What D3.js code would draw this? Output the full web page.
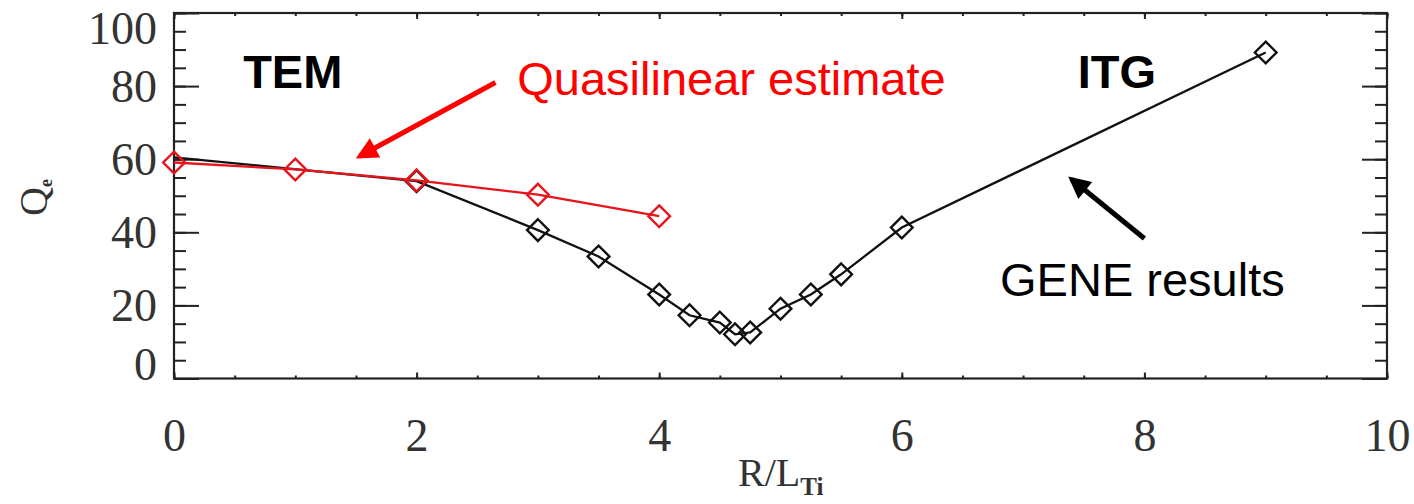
<!DOCTYPE html>
<html>
<head>
<meta charset="utf-8">
<script src="https://cdn.jsdelivr.net/npm/d3@7"></script>
<style>
  body { margin: 0; background: #fff; }
  svg { display: block; }
  .tick-label { font-family: "Liberation Serif", serif; font-size: 46px; fill: #333; }
  .note { font-family: "Liberation Sans", Arial, sans-serif; font-size: 47px; }
</style>
</head>
<body>
<svg width="1414" height="504"></svg>
<script>
// GENE results (black)
const geneX = [0, 2, 3, 3.5, 4, 4.25, 4.5, 4.625, 4.75, 5, 5.25, 5.5, 6, 9];
const geneQ = [60.5, 54, 40.6, 33.4, 23, 17.3, 15.3, 12.1, 12.6, 19.1, 23, 28.5, 41.3, 89.2];
const geneMarked = [false, true, true, true, true, true, true, true, true, true, true, true, true, true];

// Quasilinear estimate (red)
const qlX = [0, 1, 2, 3, 4];
const qlQ = [59.1, 57.2, 54.2, 50.3, 44.4];

const xTicks = [0, 2, 4, 6, 8, 10];
const yTicks = [0, 20, 40, 60, 80, 100];

(function () {
  "use strict";
  const svg = d3.select("svg");
  const margin = { top: 13, left: 174, right: 27, bottom: 125.5 };
  const width = 1414 - margin.left - margin.right;
  const height = 504 - margin.top - margin.bottom;

  const x = d3.scaleLinear().domain([0, 10]).range([0, width]);
  const y = d3.scaleLinear().domain([0, 100]).range([height, 0]);

  const g = svg.append("g").attr("transform", `translate(${margin.left},${margin.top})`);

  const styleAxis = (sel) => {
    sel.select(".domain").remove();
    sel.selectAll(".tick line").attr("stroke", "#222").attr("stroke-width", 2);
  };

  // minor ticks
  g.append("g").attr("transform", `translate(0,${height})`)
    .call(d3.axisBottom(x).tickValues(d3.range(0, 10.01, 0.5)).tickSize(-3).tickFormat(""))
    .call(styleAxis);
  g.append("g")
    .call(d3.axisTop(x).tickValues(d3.range(0, 10.01, 0.5)).tickSize(-3).tickFormat(""))
    .call(styleAxis);
  g.append("g")
    .call(d3.axisLeft(y).tickValues(d3.range(0, 101, 5)).tickSize(-12).tickFormat(""))
    .call(styleAxis);
  g.append("g").attr("transform", `translate(${width},0)`)
    .call(d3.axisRight(y).tickValues(d3.range(0, 101, 5)).tickSize(-12).tickFormat(""))
    .call(styleAxis);

  // major ticks
  const xAxis = g.append("g").attr("transform", `translate(0,${height})`)
    .call(d3.axisBottom(x).tickValues(xTicks).tickSize(-6).tickPadding(40))
    .call(styleAxis);
  xAxis.selectAll("text").attr("class", "tick-label").attr("fill", null);
  g.append("g")
    .call(d3.axisTop(x).tickValues(xTicks).tickSize(-6).tickFormat(""))
    .call(styleAxis);

  const yAxis = g.append("g")
    .call(d3.axisLeft(y).tickValues(yTicks).tickSize(-25).tickPadding(17))
    .call(styleAxis);
  const yNudge = { 0: -14, 100: 15 };
  yAxis.selectAll("text").attr("class", "tick-label").attr("fill", null)
    .attr("dy", (d) => (yNudge[d] || 0) + 15);
  g.append("g").attr("transform", `translate(${width},0)`)
    .call(d3.axisRight(y).tickValues(yTicks).tickSize(-25).tickFormat(""))
    .call(styleAxis);

  // frame
  g.append("rect").attr("width", width).attr("height", height)
    .attr("fill", "none").attr("stroke", "#222").attr("stroke-width", 2.2);

  // axis titles
  const xt = svg.append("text")
    .attr("x", margin.left + x(4.65)).attr("y", 486)
    .attr("font-family", "Liberation Serif, serif").attr("font-size", 40).attr("fill", "#333");
  xt.append("tspan").text("R/L");
  xt.append("tspan").attr("font-size", 25).attr("font-weight", "bold").attr("dy", 9).text("Ti");

  const yt = svg.append("text")
    .attr("transform", "translate(47,216) rotate(-90)")
    .attr("font-family", "Liberation Serif, serif").attr("font-size", 40).attr("fill", "#333");
  yt.append("tspan").text("Q");
  yt.append("tspan").attr("font-size", 18).attr("font-weight", "bold").attr("dy", 5).text("e");

  // series
  const line = d3.line().x((d) => x(d[0])).y((d) => y(d[1]));
  const diamond = d3.symbol().type(d3.symbolDiamond2).size(300);

  const drawSeries = (xs, ys, marked, color) => {
    const pts = xs.map((v, i) => [v, ys[i], marked[i]]);
    g.append("path").datum(pts).attr("d", line)
      .attr("fill", "none").attr("stroke", color).attr("stroke-width", 2.3);
    g.selectAll(null).data(pts.filter((d) => d[2])).enter().append("path")
      .attr("d", diamond)
      .attr("transform", (d) => `translate(${x(d[0])},${y(d[1])})`)
      .attr("fill", "none").attr("stroke", color).attr("stroke-width", 2.4);
  };
  drawSeries(geneX, geneQ, geneMarked, "#111");
  drawSeries(qlX, qlQ, qlX.map(() => true), "#e8141c");

  // annotations
  const defs = svg.append("defs");
  const addHead = (id, color) => {
    defs.append("marker").attr("id", id)
      .attr("viewBox", "0 0 10 10").attr("refX", 8).attr("refY", 5)
      .attr("markerUnits", "userSpaceOnUse").attr("markerWidth", 24).attr("markerHeight", 22)
      .attr("orient", "auto")
      .append("path").attr("d", "M0,0 L10,5 L0,10 Z").attr("fill", color);
  };
  addHead("head-red", "#ff0000");
  addHead("head-black", "#000");

  const arrow = (x0, y0, x1, y1, color, head) => {
    g.append("line")
      .attr("x1", x(x0)).attr("y1", y(y0)).attr("x2", x(x1)).attr("y2", y(y1))
      .attr("stroke", color).attr("stroke-width", 5)
      .attr("marker-end", `url(#${head})`);
  };
  arrow(2.65, 81, 1.53, 60.8, "#ff0000", "head-red");
  arrow(8.0, 38.3, 7.4, 54.5, "#000", "head-black");

  const note = (tx, ty, txt, color, bold) => {
    g.append("text").attr("class", "note")
      .attr("x", x(tx)).attr("y", y(ty))
      .attr("fill", color).attr("font-weight", bold ? "bold" : "normal")
      .text(txt);
  };
  note(0.57, 79.6, "TEM", "#000", true);
  note(7.45, 79.6, "ITG", "#000", true);
  note(2.83, 77.7, "Quasilinear estimate", "#ff0000", false);
  note(6.81, 22.5, "GENE results", "#000", false);
})();
</script>
</body>
</html>
